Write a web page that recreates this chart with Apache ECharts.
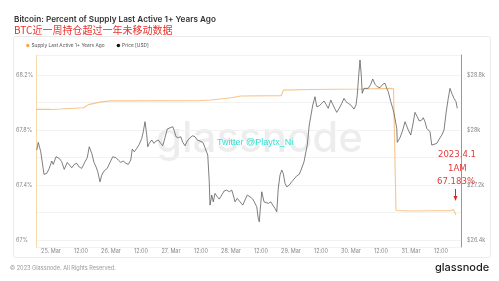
<!DOCTYPE html>
<html>
<head>
<meta charset="utf-8">
<script src="https://cdn.jsdelivr.net/npm/echarts@6/dist/echarts.min.js"></script>
<style>
html,body{margin:0;padding:0;background:#fff;}
#c{width:499px;height:281px;}
</style>
</head>
<body>
<div id="c"></div>
<script>
// hours since 24 Mar 18:00 (UTC)
var dayLabels = ['25. Mar','26. Mar','27. Mar','28. Mar','29. Mar','30. Mar','31. Mar'];
var leftTicks = [67, 67.4, 67.8, 68.2];
var rightTicks = [26400, 27200, 28000, 28800];

// Supply Last Active 1+ Years Ago (%)  [hour, value]
var supplyPoints = [[0,67.950],[6,67.950],[10,67.953],[19,67.962],[21,67.985],[26,68.005],[30,68.012],[65,68.013],[70,68.018],[78,68.035],[82,68.048],[98,68.050],[99,68.090],[110,68.095],[130,68.098],[142,68.103],[143,68.100],[144,67.215],[150,67.212],[160,67.213],[166,67.213],[167,67.222],[168,67.183]];

// Price [USD]  [hour, value]
var pricePoints = [[0.3,27710],[0.9,27821],[1.9,27684],[3.2,27356],[4.3,27370],[5.3,27443],[6.3,27549],[6.9,27501],[8,27612],[9.3,27588],[10.3,27539],[11.3,27428],[12.5,27530],[13.3,27549],[14.3,27452],[15.3,27501],[16.3,27516],[17.3,27462],[18.3,27443],[19.6,27539],[20.5,27597],[21.3,27757],[22.3,27661],[23.2,27530],[24,27466],[24.7,27393],[25.6,27248],[26.3,27345],[27.2,27404],[28.5,27443],[29.6,27530],[30.7,27612],[32,27597],[32.9,27564],[33.9,27530],[34.9,27549],[36,27516],[36.9,27501],[37.9,27564],[38.5,27724],[39.3,27684],[40.3,27734],[41.3,27792],[42.3,27879],[42.9,27975],[43.6,28121],[44.3,27927],[44.7,27757],[45.3,27807],[46.3,27855],[47.2,27807],[48,27840],[48.9,27855],[49.9,27807],[50.7,27772],[51.6,27888],[52.5,28015],[53.6,28033],[54.7,28048],[55.2,28000],[56,27903],[56.9,27888],[57.9,27903],[58.7,27821],[59.6,27772],[60.5,27840],[61.6,27888],[62.7,27917],[63.6,27903],[64.5,27855],[65.6,27840],[66.7,27821],[67.2,27782],[68,27757],[68.7,27636],[69.3,27248],[69.6,26909],[70.3,27055],[70.9,26957],[71.6,27079],[72.5,27030],[73.3,26996],[74.3,27055],[75.2,27113],[76.3,27127],[77.3,27103],[78.3,27127],[78.9,27055],[79.6,26957],[80.5,27007],[81.6,26957],[82.7,26909],[83.6,26982],[84.5,27055],[85.6,27030],[86.7,26996],[87.3,26957],[88.3,26884],[88.9,26716],[89.3,26666],[89.9,26934],[90.3,27103],[91.2,26957],[92,26982],[92.9,26934],[93.9,26957],[94.7,26909],[95.6,26861],[96.3,26812],[96.9,27152],[97.6,27345],[98.3,27418],[98.9,27370],[99.6,27225],[100.3,27175],[101.3,27200],[102.3,27248],[103.2,27287],[104.3,27335],[105.3,27356],[106,27418],[106.7,27393],[107.2,27539],[108,27564],[108.5,27782],[109.3,28073],[110,28218],[110.7,28364],[111.6,28484],[112.3,28339],[113.3,28353],[114.3,28388],[115.2,28422],[116,28374],[116.9,28316],[117.9,28436],[118.7,28374],[119.6,28305],[120.3,28257],[121.3,28316],[122.3,28388],[123.2,28461],[124,28412],[124.9,28388],[125.9,28364],[126.7,28339],[127.2,28305],[128,28364],[128.5,28509],[129.1,28800],[129.6,29018],[130.1,28800],[130.5,28534],[131.2,28606],[132,28630],[132.9,28606],[133.9,28665],[134.7,28742],[135.6,28665],[136.5,28630],[137.6,28615],[138.7,28665],[139.6,28679],[140.3,28606],[140.9,28557],[141.9,28412],[142.7,28316],[143.2,28243],[143.6,28266],[144.3,28025],[144.5,27821],[145.6,27888],[146.7,28000],[147.6,28121],[148.3,28097],[148.9,28000],[149.9,27927],[150.7,28073],[151.6,28257],[152.5,28194],[153.3,28131],[154.3,28145],[154.9,28179],[155.6,28121],[156.3,28025],[156.9,28048],[157.6,27975],[158.3,27782],[159.2,27792],[160.3,27807],[161.3,27869],[162.3,27927],[163.2,28000],[164,28243],[164.9,28461],[165.6,28606],[166.3,28534],[167.2,28461],[168,28412],[168.5,28316]];

function near(a, b, eps){ return Math.abs(a-b) < eps; }

var condensed = "'DejaVu Sans Condensed', 'Liberation Sans', sans-serif";
var chart = echarts.init(document.getElementById('c'), null, {renderer:'canvas'});
var option = {
  animation: false,
  backgroundColor: '#fff',
  title: [
    {text: 'Bitcoin: Percent of Supply Last Active 1+ Years Ago', left: 9, top: 11,
     textStyle: {fontSize: 8.2, fontWeight: 600, color: '#333', fontFamily: 'Inter'}},
    {text: 'BTC近一周持仓超过一年未移动数据', left: 9, top: 20,
     textStyle: {fontSize: 10, fontWeight: 'normal', color: '#e8322d', fontFamily: 'Noto Sans CJK SC'}}
  ],
  legend: {
    left: 21, top: 38, itemWidth: 3.5, itemHeight: 3.5, itemGap: 12,
    icon: 'circle',
    textStyle: {fontSize: 4.8, color: '#555', fontFamily: 'Inter', padding: [0,0,0,-3]},
    data: ['Supply Last Active 1+ Years Ago', 'Price [USD]']
  },
  grid: {left: 36, right: 38, top: 55, bottom: 34},
  xAxis: {
    type: 'value', min: 0, max: 170, interval: 6,
    axisLine: {show: false}, axisTick: {show: false}, splitLine: {show: false},
    axisLabel: {
      fontSize: 5.5, color: '#888', margin: 1, fontFamily: 'Inter',
      formatter: function(v){
        var r = ((v % 24) + 24) % 24;
        if (r === 6) { var d = Math.round((v - 6) / 24); return dayLabels[d] || ''; }
        if (r === 18) return '12:00';
        return '';
      }
    }
  },
  yAxis: [
    {
      type: 'value', min: 66.95, max: 68.3456, splitNumber: 7,
      axisLine: {show: true, lineStyle: {color: '#f8d9ae', width: 1}},
      axisTick: {show: false},
      splitLine: {show: true, lineStyle: {color: '#f2f2f2', width: 1}},
      axisLabel: {
        showMinLabel: false, showMaxLabel: false,
        align: 'left', margin: 20, fontSize: 5.5, color: '#888', fontFamily: 'Inter',
        formatter: function(v){
          for (var i = 0; i < leftTicks.length; i++) if (near(v, leftTicks[i], 1e-6)) return (Math.round(v*10)/10) + '%';
          return '';
        }
      }
    },
    {
      type: 'value', min: 26300, max: 29091, interval: 100, position: 'right',
      axisLine: {show: true, lineStyle: {color: '#999', width: 1}},
      axisTick: {show: false},
      splitLine: {show: false},
      axisLabel: {
        margin: 6, fontSize: 5.5, color: '#888', fontFamily: 'Inter',
        formatter: function(v){
          for (var i = 0; i < rightTicks.length; i++) if (near(v, rightTicks[i], 1e-3)) return '$' + (v/1000) + 'k';
          return '';
        }
      }
    }
  ],
  series: [
    {
      name: 'Supply Last Active 1+ Years Ago', type: 'line', yAxisIndex: 0,
      data: supplyPoints, showSymbol: false, symbol: 'none',
      itemStyle: {color: '#f5a94a'},
      lineStyle: {color: '#f7c58a', width: 1.1}, z: 3
    },
    {
      name: 'Price [USD]', type: 'line', yAxisIndex: 1,
      data: pricePoints, showSymbol: false, symbol: 'none',
      itemStyle: {color: '#111'},
      lineStyle: {color: '#5e5e5e', width: 0.8}, z: 4
    }
  ],
  graphic: [
    {type: 'rect', left: 11, top: 34, z: -10, shape: {width: 477, height: 221, r: 2},
     style: {fill: 'none', stroke: '#ebebeb', lineWidth: 1}},
    {type: 'text', left: 156, top: 118, z: 0,
     style: {text: 'glassnode', fontSize: 42, fontFamily: 'Inter', fontWeight: 500, fill: 'rgba(0,0,0,0.07)'}},
    {type: 'text', left: 217, top: 138, z: 10,
     style: {text: 'Twitter @Playtx_Ni', fontSize: 9, fontFamily: 'Liberation Sans', fill: '#33e2d2'}},
    {type: 'text', left: 438, top: 150, z: 10,
     style: {text: '2023.4.1', fontSize: 9.5, fontFamily: condensed, fill: '#e23b3b'}},
    {type: 'text', left: 448, top: 164, z: 10,
     style: {text: '1AM', fontSize: 9.5, fontFamily: condensed, fill: '#e23b3b'}},
    {type: 'text', left: 437, top: 177, z: 10,
     style: {text: '67.183%', fontSize: 9.5, fontFamily: condensed, fill: '#e23b3b'}},
    {type: 'line', z: 10, shape: {x1: 455.5, y1: 189, x2: 455.5, y2: 198},
     style: {stroke: '#d42a2a', lineWidth: 1}},
    {type: 'polygon', z: 10, shape: {points: [[453.5,196],[457.5,196],[455.5,201]]},
     style: {fill: '#d42a2a'}},
    {type: 'text', left: 10, top: 265, z: 10,
     style: {text: '© 2023 Glassnode. All Rights Reserved.', fontSize: 5.6, fontFamily: 'Inter', fill: '#999'}},
    {type: 'text', left: 435, top: 262, z: 10,
     style: {text: 'glassnode', fontSize: 11, fontFamily: 'Inter', fontWeight: 500, fill: '#1d1d1d'}}
  ]
};
chart.setOption(option);
</script>
</body>
</html>
